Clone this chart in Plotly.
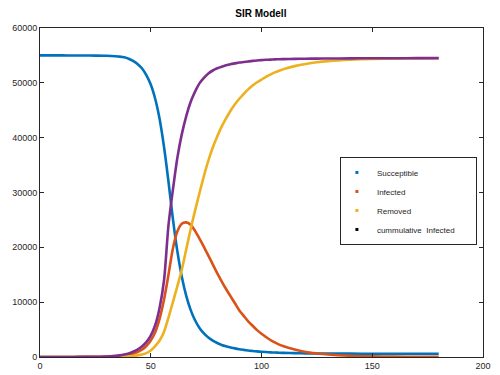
import plotly.graph_objects as go

t = [0, 5, 10, 15, 20, 25, 30, 34, 36, 38, 40, 42, 44, 46, 48, 50, 52, 54, 56, 58, 60,
     62, 64, 66, 68, 70, 72, 74, 76, 78, 80, 82, 84, 86, 88, 90, 92, 94, 96, 98, 100,
     102, 104, 106, 108, 110, 115, 120, 125, 130, 140, 150, 160, 170, 180]

susceptible = [55000, 55000, 55000, 54995, 54985, 54970, 54930, 54850, 54780, 54650,
               54400, 54000, 53450, 52650, 51400, 49700, 47100, 43400, 38300, 32000,
               25200, 19300, 14700, 11200, 8600, 6700, 5300, 4300, 3550, 3000, 2550,
               2200, 1950, 1750, 1570, 1420, 1300, 1190, 1100, 1020, 950, 900, 850,
               810, 780, 750, 700, 670, 650, 635, 615, 600, 595, 590, 585]

infected = [1, 2, 4, 8, 15, 30, 60, 120, 180, 270, 400, 600, 900, 1350, 2000, 3000,
            4500, 7000, 10500, 15000, 19800, 22900, 24300, 24550, 24100, 23000, 21600,
            20100, 18500, 16900, 15300, 13800, 12400, 11100, 9800, 8500, 7500, 6500,
            5700, 4900, 4250, 3650, 3100, 2650, 2250, 1950, 1350, 900, 650, 460, 230,
            120, 70, 40, 25]

removed = [0, 0, 1, 2, 4, 6, 10, 30, 50, 80, 120, 190, 290, 440, 700, 1200, 2000, 3000,
           4600, 7200, 10000, 12900, 15900, 19600, 23300, 26700, 29900, 33000, 35800,
           38200, 40200, 42000, 43500, 44900, 46100, 47100, 48000, 48800, 49500, 50100,
           50600, 51100, 51500, 51900, 52200, 52500, 53050, 53450, 53750, 53950, 54200,
           54350, 54420, 54460, 54480]

cumulative = [1, 2, 5, 10, 20, 40, 80, 200, 300, 450, 650, 950, 1350, 1900, 2700, 3900,
              5800, 9000, 14000, 24000, 30500, 36300, 40600, 43900, 46500, 48400, 49900,
              50900, 51700, 52250, 52650, 52950, 53200, 53400, 53550, 53700, 53800,
              53900, 54000, 54080, 54150, 54200, 54240, 54280, 54310, 54330, 54370,
              54400, 54420, 54440, 54460, 54480, 54490, 54500, 54500]

names = ["Succeptible", "Infected", "Removed", "cummulative\u00a0 Infected"]
colors = ["#0072BD", "#D95319", "#EDB120", "#7E2F8E"]
legend_colors = ["#0072BD", "#D95319", "#EDB120", "#000000"]
series = [susceptible, infected, removed, cumulative]

fig = go.Figure()
for ys, c in zip(series, colors):
    fig.add_trace(go.Scatter(x=t, y=ys, mode="lines",
                             line=dict(color=c, width=2.6, shape="spline", smoothing=0.8),
                             showlegend=False, hoverinfo="skip"))
pad = "\u00a0" * 7
for n, c in zip(names, legend_colors):
    label = n + pad if n.startswith("cumm") else n
    fig.add_trace(go.Scatter(x=[None], y=[None], mode="markers", name=label,
                             marker=dict(color=c, size=3, symbol="square")))

axis_common = dict(showline=True, linecolor="#262626", linewidth=1, mirror="ticks",
                   ticks="inside", ticklen=4, tickcolor="#262626", showgrid=False,
                   zeroline=False, automargin=False,
                   tickfont=dict(family="Liberation Sans, Arial", size=9, color="#262626"))

# page body has an 8px margin, so the figure is sized/offset to compensate
fig.update_layout(
    width=492, height=367,
    margin=dict(l=32, r=17, t=20, b=18),
    paper_bgcolor="white", plot_bgcolor="white",
    title=dict(text="<b>SIR Modell</b>", x=0.514, xanchor="center",
               y=1 - 5 / 367, yanchor="middle", automargin=False,
               font=dict(family="Liberation Sans, Arial", size=10, color="#000000")),
    xaxis=dict(range=[0, 200], tickvals=[0, 50, 100, 150, 200], **axis_common),
    yaxis=dict(range=[0, 60000], tickvals=[0, 10000, 20000, 30000, 40000, 50000, 60000],
               tickformat="d", **axis_common),
    legend=dict(x=0.677, y=0.608, xanchor="left", yanchor="top",
                bordercolor="#262626", borderwidth=1, bgcolor="white",
                font=dict(family="Liberation Sans, Arial", size=8, color="#262626"),
                itemwidth=30, tracegroupgap=0, indentation=-4),
    showlegend=True,
)

fig.write_html("out.html")
